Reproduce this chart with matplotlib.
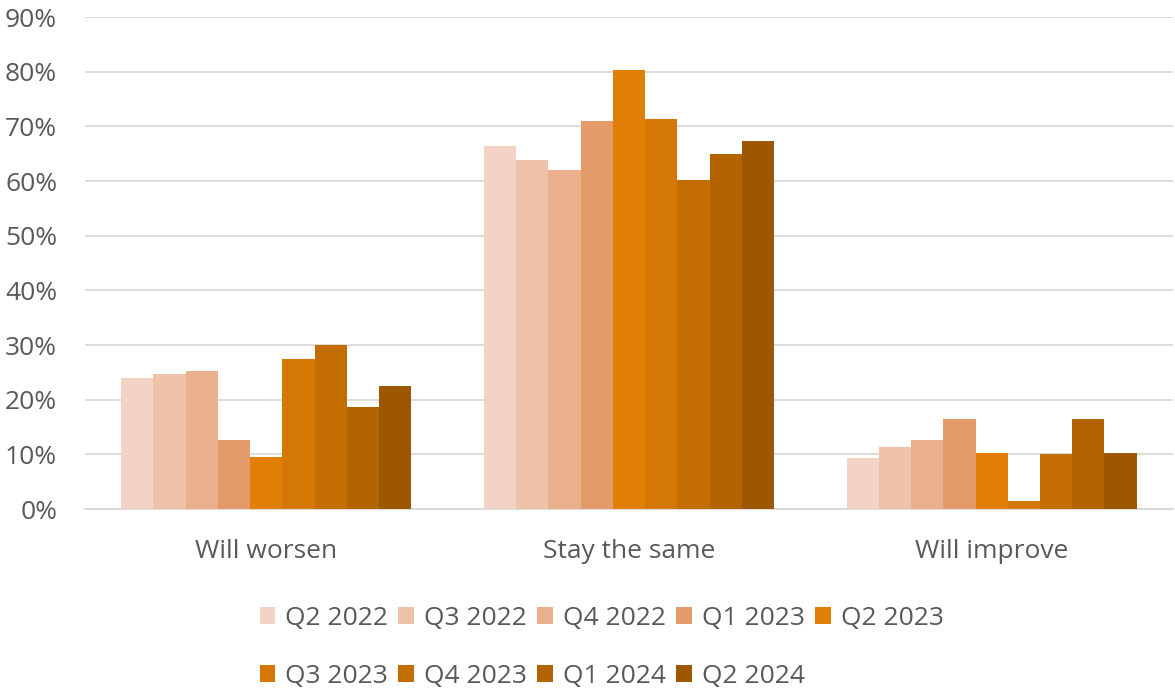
import matplotlib
matplotlib.use("Agg")
import matplotlib.pyplot as plt
import numpy as np
from matplotlib.ticker import FuncFormatter, MultipleLocator

categories = ["Will worsen", "Stay the same", "Will improve"]
series_names = ["Q2 2022", "Q3 2022", "Q4 2022", "Q1 2023", "Q2 2023",
                "Q3 2023", "Q4 2023", "Q1 2024", "Q2 2024"]
q2_2022 = [24.0, 66.5, 9.3]
q3_2022 = [24.7, 63.8, 11.4]
q4_2022 = [25.3, 62.0, 12.6]
q1_2023 = [12.6, 71.0, 16.5]
q2_2023 = [9.6, 80.3, 10.2]
q3_2023 = [27.4, 71.3, 1.5]
q4_2023 = [30.1, 60.2, 10.0]
q1_2024 = [18.6, 65.0, 16.5]
q2_2024 = [22.6, 67.4, 10.2]
values = [q2_2022, q3_2022, q4_2022, q1_2023, q2_2023,
          q3_2023, q4_2023, q1_2024, q2_2024]
colors = ["#F2D3C5", "#EFC2AA", "#EAB08E", "#E59B69", "#E27F06",
          "#D47705", "#C46D02", "#B36300", "#9C5700"]

plt.rcParams['font.family'] = ['Open Sans', 'DejaVu Sans']
text_color = "#595959"
fs = 19

fig = plt.figure(figsize=(11.75, 6.89), dpi=100)
ax = fig.add_axes([0.0723, 0.261, 0.926, 0.7143])

n = len(series_names)
group_w = 0.8
bw = group_w / n
x = np.arange(len(categories))
handles = []
for i, (vals, c) in enumerate(zip(values, colors)):
    pos = x - group_w / 2 + bw * (i + 0.5)
    h = ax.bar(pos, vals, width=bw, color=c, label=series_names[i], zorder=3)
    handles.append(h)

ax.set_xlim(-0.5, len(categories) - 0.5)
ax.set_ylim(0, 90)
ax.yaxis.set_major_locator(MultipleLocator(10))
ax.yaxis.set_major_formatter(FuncFormatter(lambda v, p: f"{int(round(v))}%"))
ax.grid(axis='y', color='#D9D9D9', linewidth=1.3, zorder=0)
for s in ['top', 'right', 'left']:
    ax.spines[s].set_visible(False)
ax.spines['bottom'].set_color('#D9D9D9')
ax.spines['bottom'].set_linewidth(1.3)
ax.set_xticks(x)
ax.set_xticklabels(categories)
ax.tick_params(axis='both', length=0, colors=text_color, labelsize=fs)
ax.tick_params(axis='x', pad=21.5)
ax.tick_params(axis='y', pad=20)

order = [0, 5, 1, 6, 2, 7, 3, 8, 4]
leg = fig.legend([handles[i] for i in order], [series_names[i] for i in order],
                 ncol=5, loc='center', bbox_to_anchor=(0.512, 0.06),
                 frameon=False, fontsize=fs, handlelength=0.6, handleheight=0.6,
                 handletextpad=0.38, columnspacing=0.38, labelspacing=1.25,
                 borderpad=0)
for t in leg.get_texts():
    t.set_color(text_color)

fig.savefig("out.png", dpi=100)
